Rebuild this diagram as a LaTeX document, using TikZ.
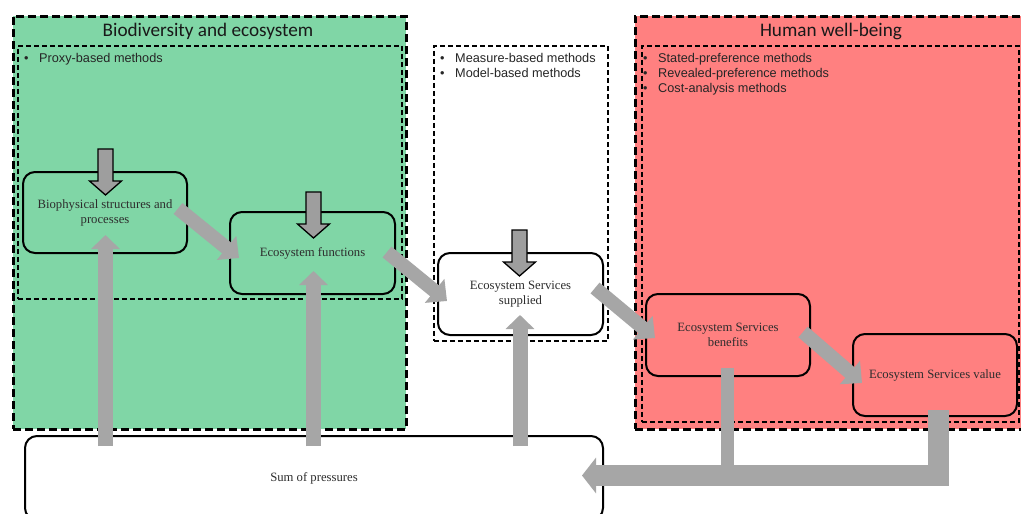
\documentclass[tikz,border=0pt]{standalone}
\usepackage{fontspec}
\setmainfont{Liberation Serif}
\newfontfamily\titlefont{Carlito}
\newfontfamily\bulfont{Liberation Sans}
\usetikzlibrary{arrows.meta,calc}
\definecolor{ecogreen}{RGB}{128,214,166}
\definecolor{hwred}{RGB}{255,128,128}
\definecolor{arrgray}{RGB}{166,166,166}
\definecolor{dngray}{RGB}{158,158,158}
\definecolor{txt}{RGB}{45,45,45}
\tikzset{
  dnarrow/.pic={\draw[black, line width=1.3pt, fill=dngray, line join=miter]
    (-7.5,-46) -- (7.5,-46) -- (7.5,-14) -- (16,-14) -- (0,0) -- (-16,-14) -- (-7.5,-14) -- cycle;}
}
\begin{document}
\begin{tikzpicture}[x=1pt,y=-1pt,
  outerbox/.style={draw=black, line width=2.6pt, dash pattern=on 8pt off 4pt, inner sep=0pt, anchor=north west},
  innerbox/.style={draw=black, line width=1.9pt, dash pattern=on 5pt off 3pt, inner sep=0pt, anchor=north west},
  procbox/.style={draw=black, line width=2pt, rounded corners=12pt, align=center, text=txt,
     font=\fontsize{12.7}{15}\selectfont, inner sep=0pt},
  zonetitle/.style={font=\titlefont\fontsize{19.2}{22}\selectfont, text=black!90},
  bullline/.style={font=\bulfont\fontsize{12.7}{14}\selectfont, anchor=base west, inner sep=0pt, text=black!85},
  uparrow/.style={arrgray, line width=15pt, -{Triangle[width=28pt,length=14pt]}},
  diagarrow/.style={arrgray, line width=14pt, -{Triangle[width=30pt,length=16pt]}}
]
\useasboundingbox (0,0) rectangle (1021,514);
\clip (0,0) rectangle (1021,514);
\fill[white] (0,0) rectangle (1021,514);

% zones
\node[outerbox, fill=ecogreen, minimum width=393pt, minimum height=413pt] (greenzone) at (12,15) {};
\node[innerbox, minimum width=384pt, minimum height=253pt] (greeninner) at (17,45) {};
\node[innerbox, minimum width=174pt, minimum height=295pt] (midzone) at (433,45) {};
\node[outerbox, fill=hwred, minimum width=400pt, minimum height=413pt] (redzone) at (634,15) {};
\node[innerbox, minimum width=377pt, minimum height=376pt] (redinner) at (641,45) {};

% titles
\node[zonetitle] (t1) at (208,31) {Biodiversity and ecosystem};
\node[zonetitle] (t2) at (831,31) {Human well-being};

% bullet lists
\node[bullline] (g1) at (24,62) {\makebox[15pt][l]{\textbullet}Proxy-based methods};
\node[bullline] (m1) at (440,62) {\makebox[15pt][l]{\textbullet}Measure-based methods};
\node[bullline] (m2) at (440,77) {\makebox[15pt][l]{\textbullet}Model-based methods};
\node[bullline] (r1) at (643,62) {\makebox[15pt][l]{\textbullet}Stated-preference methods};
\node[bullline] (r2) at (643,77) {\makebox[15pt][l]{\textbullet}Revealed-preference methods};
\node[bullline] (r3) at (643,92) {\makebox[15pt][l]{\textbullet}Cost-analysis methods};

% process boxes
\node[procbox, minimum width=164pt, minimum height=81pt] (bio) at (105,212.5) {Biophysical structures and\\processes};
\node[procbox, minimum width=165pt, minimum height=82pt] (func) at (312.5,253) {Ecosystem functions};
\node[procbox, fill=white, minimum width=165pt, minimum height=82pt] (sup) at (520.5,294) {Ecosystem Services\\supplied};
\node[procbox, fill=hwred, minimum width=164pt, minimum height=82pt] (ben) at (728,335) {Ecosystem Services\\benefits};
\node[procbox, fill=hwred, minimum width=164pt, minimum height=82pt] (val) at (935,375) {Ecosystem Services value};
\node[procbox, fill=white, minimum width=578pt, minimum height=84pt] (sum) at (314,478) {Sum of pressures};

% inward (top) arrows
\path ($(bio.north)+(0.5,24)$) pic {dnarrow};
\path ($(func.north)+(1,27)$) pic {dnarrow};
\path ($(sup.north)+(-1,24)$) pic {dnarrow};

% pressures upwards
\draw[uparrow] ($(sum.north -| bio.south)+(0.5,11)$) -- ($(bio.south)+(0.5,-19)$);
\draw[uparrow] ($(sum.north -| func.south)+(1,11)$) -- ($(func.south)+(1,-24)$);
\draw[uparrow] ($(sum.north -| sup.south)+(-0.5,11)$) -- ($(sup.south)+(-0.5,-21)$);

% cascade arrows
\draw[diagarrow] ($(bio.east)+(-10,-4)$) -- ($(func.west)+(10,5)$);
\draw[diagarrow] ($(func.east)+(-9,-1)$) -- ($(sup.west)+(10,7)$);
\draw[diagarrow] ($(sup.east)+(-9,-6)$) -- ($(ben.west)+(10,3)$);
\draw[diagarrow] ($(ben.east)+(-8,-3)$) -- ($(val.west)+(10,8)$);

% feedback to pressures
\draw[arrgray, line width=13pt] ($(ben.south)+(-0.5,-9)$) -- ($(ben.south)+(-0.5,95)$);
\draw[arrgray, line width=21pt, line join=miter, -{Triangle[width=35pt,length=14pt]}]
  ($(val.south)+(3.5,-7)$) |- ($(sum.east)+(-22,-2.5)$);
\end{tikzpicture}
\end{document}
